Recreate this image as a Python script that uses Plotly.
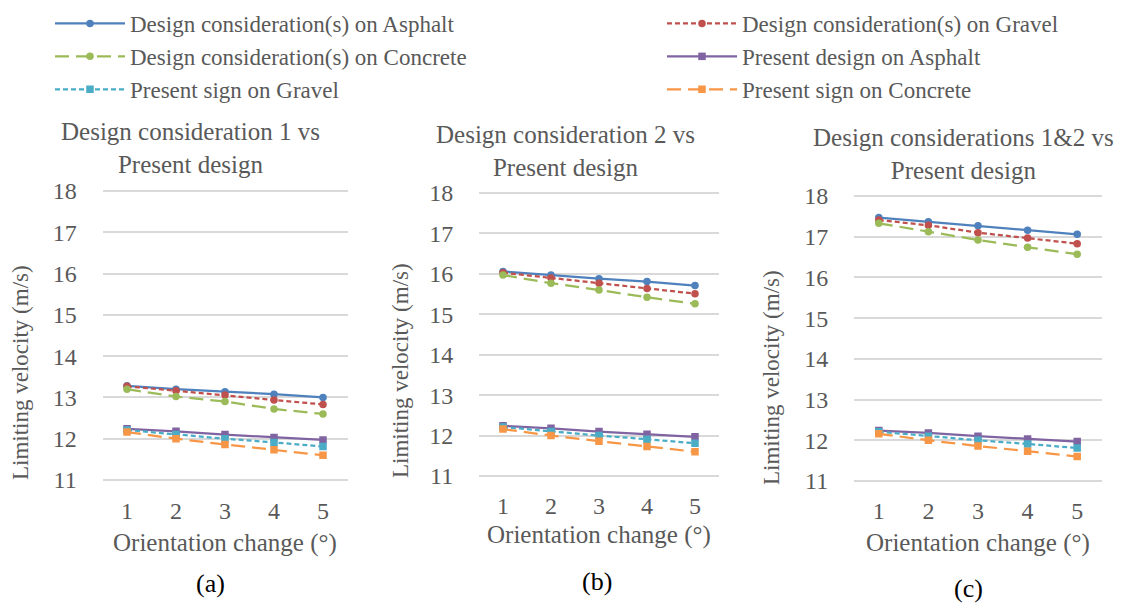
import plotly.graph_objects as go

W, H = 1146, 603

orientation = [1, 2, 3, 4, 5]
y_ticks = [11, 12, 13, 14, 15, 16, 17, 18]

panel_titles = ["Design consideration 1 vs<br>Present design",
                "Design consideration 2 vs<br>Present design",
                "Design considerations 1&2 vs<br>Present design"]
panel_labels = ["(a)", "(b)", "(c)"]

series_names = ["Design consideration(s) on Asphalt",
                "Design consideration(s) on Gravel",
                "Design consideration(s) on Concrete",
                "Present design on Asphalt",
                "Present sign on Gravel",
                "Present sign on Concrete"]

# Design consideration values per panel
design_a_asphalt = [13.28, 13.20, 13.14, 13.08, 13.00]
design_a_gravel = [13.27, 13.16, 13.06, 12.94, 12.83]
design_a_concrete = [13.20, 13.02, 12.90, 12.72, 12.60]

design_b_asphalt = [16.06, 15.97, 15.88, 15.81, 15.71]
design_b_gravel = [16.03, 15.90, 15.77, 15.64, 15.51]
design_b_concrete = [15.97, 15.77, 15.60, 15.42, 15.26]

design_c_asphalt = [17.47, 17.37, 17.27, 17.16, 17.06]
design_c_gravel = [17.41, 17.28, 17.10, 16.97, 16.83]
design_c_concrete = [17.33, 17.12, 16.92, 16.74, 16.57]

# Present design (same in all panels)
present_asphalt = [12.24, 12.18, 12.10, 12.03, 11.97]
present_gravel = [12.21, 12.10, 12.00, 11.91, 11.81]
present_concrete = [12.16, 12.00, 11.86, 11.73, 11.60]

panels = [
    [design_a_asphalt, design_a_gravel, design_a_concrete, present_asphalt, present_gravel, present_concrete],
    [design_b_asphalt, design_b_gravel, design_b_concrete, present_asphalt, present_gravel, present_concrete],
    [design_c_asphalt, design_c_gravel, design_c_concrete, present_asphalt, present_gravel, present_concrete],
]

colors = ["#4F81BD", "#C0504D", "#9BBB59", "#8064A2", "#4BACC6", "#F79646"]
dashes = ["solid", "5px,3px", "14px,7px", "solid", "5px,3px", "14px,7px"]
symbols = ["circle", "circle", "circle", "square", "square", "square"]
legend_of = ["legend", "legend2", "legend", "legend2", "legend", "legend2"]

FONT = "Liberation Serif, Times New Roman, serif"
GRAY = "#595959"
GRID = "#D9D9D9"


def px(x):   # page x pixel -> paper fraction
    return x / W


def py(y):   # page y pixel -> paper fraction
    return 1 - y / H


# page-pixel geometry of plot areas: (x0, x1, y_top(18), y_bottom(11))
geo = [(102.5, 347.5, 191, 480), (479, 719, 193, 476), (854, 1102, 196, 481)]
PAD = 0.4  # range padding so the edge gridlines stay inside the plot area
XTICK_LEN = 5
xaxis_pos = [484, 479, 484]          # page y of the (free) x axes

title_y = [148, 151, 154]
title_x = [190, 565, 963]
ytitle_x = [20, 400, 771]
ytitle_y = [373, 371, 378]
xtitle_y = [543, 535, 543]
label_x = [210, 597, 968]
label_y = [583, 581, 588]

fig = go.Figure()
layout = {}
annotations = []
for p in range(3):
    xa = "x" if p == 0 else f"x{p+1}"
    ya = "y" if p == 0 else f"y{p+1}"
    for i in range(6):
        fig.add_trace(go.Scatter(
            x=orientation, y=panels[p][i], name=series_names[i],
            mode="lines+markers", xaxis=xa, yaxis=ya,
            line=dict(color=colors[i], width=2.25, dash=dashes[i]),
            marker=dict(color=colors[i], size=7.5, symbol=symbols[i]),
            legend=legend_of[i], showlegend=(p == 0)))
    x0, x1, yt, yb = geo[p]
    ppu = (yb - yt) / 7.0
    yt2, yb2 = yt - PAD * ppu, yb + PAD * ppu
    xkey = "xaxis" if p == 0 else f"xaxis{p+1}"
    ykey = "yaxis" if p == 0 else f"yaxis{p+1}"
    layout[xkey] = dict(domain=[px(x0), px(x1)], range=[0.5, 5.5], tickvals=orientation,
                        showgrid=False, zeroline=False, showline=False,
                        ticks="outside", ticklen=XTICK_LEN,
                        tickcolor="rgba(0,0,0,0)",
                        tickfont=dict(family=FONT, size=24, color=GRAY),
                        anchor="free", position=py(xaxis_pos[p]), fixedrange=True)
    layout[ykey] = dict(domain=[py(yb2), py(yt2)], range=[11 - PAD, 18 + PAD],
                        tickvals=y_ticks,
                        showgrid=True, gridcolor=GRID, gridwidth=1.8, zeroline=False,
                        showline=False, ticks="outside", ticklen=20, tickcolor="rgba(0,0,0,0)",
                        tickfont=dict(family=FONT, size=24, color=GRAY),
                        anchor=xa, fixedrange=True)
    cx = (x0 + x1) / 2
    annotations.append(dict(text=panel_titles[p], x=px(title_x[p]),
                            y=py(title_y[p]), xref="paper", yref="paper",
                            showarrow=False, xanchor="center", yanchor="middle",
                            font=dict(family=FONT, size=25, color=GRAY)))
    annotations.append(dict(text="Limiting velocity (m/s)", x=px(ytitle_x[p]),
                            y=py(ytitle_y[p]), xref="paper", yref="paper",
                            textangle=-90, showarrow=False, xanchor="center", yanchor="middle",
                            font=dict(family=FONT, size=23, color=GRAY)))
    annotations.append(dict(text="Orientation change (°)", x=px(cx),
                            y=py(xtitle_y[p]), xref="paper", yref="paper",
                            showarrow=False, xanchor="center", yanchor="middle",
                            font=dict(family=FONT, size=25, color=GRAY)))
    annotations.append(dict(text=panel_labels[p], x=px(label_x[p]),
                            y=py(label_y[p]), xref="paper", yref="paper",
                            showarrow=False, xanchor="center", yanchor="middle",
                            font=dict(family=FONT, size=26, color="#000000")))

legend_common = dict(orientation="v", yanchor="top", xanchor="left", itemwidth=70,
                     font=dict(family=FONT, size=23, color=GRAY),
                     bgcolor="rgba(0,0,0,0)", tracegroupgap=0)

fig.update_layout(**layout)
fig.update_layout(
    width=W, height=H, margin=dict(l=0, r=0, t=0, b=0),
    paper_bgcolor="white", plot_bgcolor="white",
    annotations=annotations,
    legend=dict(x=50 / W, y=py(2), **legend_common),
    legend2=dict(x=662 / W, y=py(2), **legend_common),
)
fig.write_html("out.html", config={"displayModeBar": False},
               post_script="document.body.style.margin='0px';")
